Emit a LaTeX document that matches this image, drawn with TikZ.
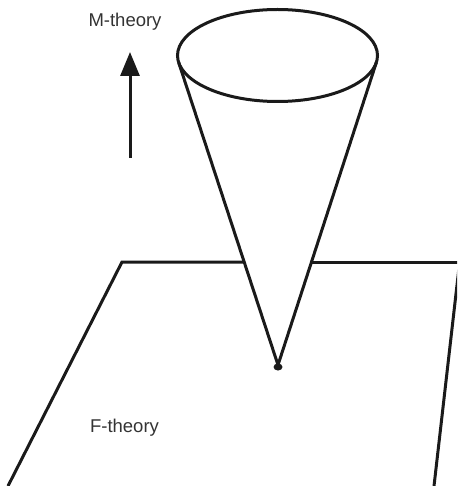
\documentclass[tikz,border=0pt]{standalone}
\usepackage{fontspec}
\setmainfont{Liberation Sans}
\usetikzlibrary{arrows.meta,calc}
\definecolor{ink}{HTML}{1A1A1A}
\definecolor{txt}{HTML}{333333}
\tikzset{
  edge/.style={draw=ink, line width=3pt, line join=miter},
  lab/.style={text=txt, font=\fontsize{18.5}{20}\selectfont, inner sep=0pt},
}
\begin{document}
\begin{tikzpicture}[x=1pt,y=-1pt]
\useasboundingbox (0,0) rectangle (457,486);
% plane
\coordinate (p1) at (122,262);
\coordinate (p0) at (8,486);
\coordinate (q1) at (457,285);
\coordinate (q0) at (434,486);
\coordinate (p2) at (470,262);
\coordinate (c1) at (244.4,262);
\coordinate (c2) at (311.3,262);
\begin{scope}
\clip (0,0) rectangle (457,486);
\draw[edge] (p0) -- (p1) -- (c1);
\draw[edge] (c2) -- (p2);
\draw[edge] (q0) -- ($(q0)!1.1!(q1)$);
\end{scope}
% cone
\coordinate (apex) at (278,365);
\coordinate (tl) at (178.6,62.3);
\coordinate (tr) at (376.4,62.3);
\draw[edge] (277.5,55.5) ellipse [x radius=100, y radius=46];
\draw[edge] (tl) -- (apex) -- (tr);
\fill[ink] (278,367) ellipse [x radius=4.5, y radius=3.5];
% arrow
\coordinate (a0) at (130,158);
\coordinate (a1) at (130,52);
\draw[draw=ink, line width=3pt, -{Triangle[length=24pt,width=19pt]}] (a0) -- (a1);
% labels
\node[lab] (m) at (125,22) {M-theory};
\node[lab] (f) at (124.5,428) {F-theory};
\end{tikzpicture}
\end{document}
